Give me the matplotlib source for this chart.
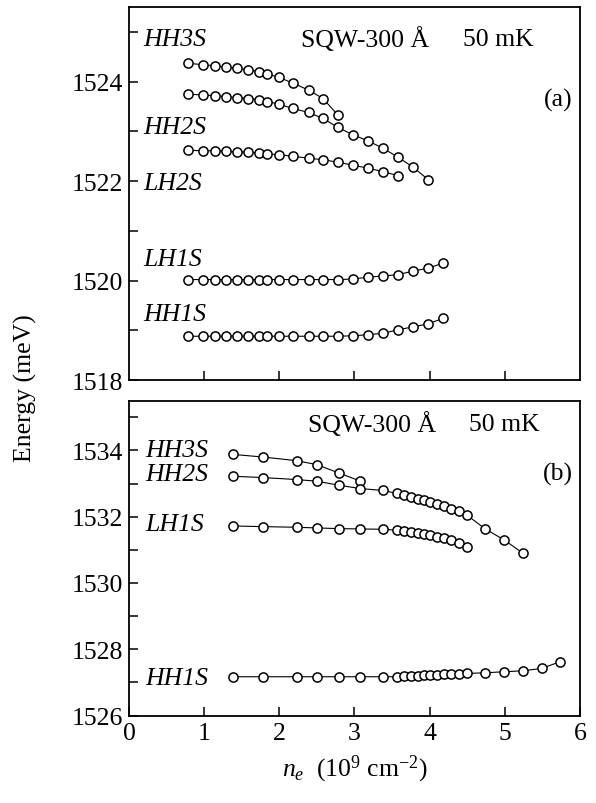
import matplotlib
matplotlib.use("Agg")
import matplotlib.pyplot as plt

plt.rcParams["font.family"] = ["Liberation Serif", "DejaVu Serif"]
plt.rcParams["mathtext.fontset"] = "custom"
plt.rcParams["mathtext.rm"] = "Liberation Serif"
plt.rcParams["mathtext.it"] = "Liberation Serif:italic"

# ---------------- Panel (a) data ----------------
xa_full = [0.79, 0.98, 1.14, 1.29, 1.44, 1.59, 1.73, 1.84, 1.99, 2.18,
           2.39, 2.58, 2.78, 2.98, 3.18, 3.38, 3.58, 3.78, 3.98, 4.18]

a_hh3s = [1524.37, 1524.34, 1524.32, 1524.29, 1524.27, 1524.24, 1524.20,
          1524.15, 1524.09, 1523.97, 1523.83, 1523.66, 1523.33]
a_hh2s = [1523.75, 1523.73, 1523.72, 1523.70, 1523.68, 1523.66, 1523.64,
          1523.60, 1523.55, 1523.46, 1523.38, 1523.26, 1523.08, 1522.93,
          1522.81, 1522.66, 1522.48, 1522.28, 1522.03]
a_lh2s = [1522.62, 1522.61, 1522.61, 1522.60, 1522.59, 1522.58, 1522.57,
          1522.55, 1522.53, 1522.50, 1522.46, 1522.43, 1522.38, 1522.32,
          1522.26, 1522.19, 1522.11]
a_lh1s = [1520.02, 1520.02, 1520.02, 1520.02, 1520.02, 1520.02, 1520.02,
          1520.02, 1520.02, 1520.02, 1520.02, 1520.02, 1520.02, 1520.03,
          1520.07, 1520.09, 1520.12, 1520.19, 1520.25, 1520.35]
a_hh1s = [1518.88, 1518.88, 1518.88, 1518.88, 1518.88, 1518.88, 1518.88,
          1518.88, 1518.88, 1518.88, 1518.88, 1518.88, 1518.88, 1518.89,
          1518.91, 1518.94, 1519.01, 1519.07, 1519.13, 1519.24]

# ---------------- Panel (b) data ----------------
xb_full = [1.38, 1.78, 2.23, 2.50, 2.79, 3.07, 3.38,
           3.57, 3.66, 3.75, 3.84, 3.93, 4.01, 4.10, 4.19, 4.29, 4.39, 4.50,
           4.74, 4.99, 5.24, 5.49, 5.73]

b_hh3s = [1533.88, 1533.80, 1533.69, 1533.57, 1533.32, 1533.08]
b_hh2s = [1533.22, 1533.18, 1533.12, 1533.07, 1532.95, 1532.85, 1532.79,
          1532.70, 1532.64, 1532.59, 1532.54, 1532.49, 1532.44, 1532.37,
          1532.31, 1532.24, 1532.17, 1532.04,
          1531.63, 1531.30, 1530.90]
b_lh1s = [1531.72, 1531.70, 1531.68, 1531.66, 1531.64, 1531.63, 1531.62,
          1531.59, 1531.57, 1531.54, 1531.51, 1531.48, 1531.45, 1531.40,
          1531.35, 1531.29, 1531.21, 1531.10]
b_hh1s = [1527.17, 1527.17, 1527.17, 1527.17, 1527.17, 1527.17, 1527.17,
          1527.17, 1527.18, 1527.19, 1527.20, 1527.21, 1527.22, 1527.23,
          1527.24, 1527.25, 1527.26, 1527.27,
          1527.29, 1527.32, 1527.35, 1527.42, 1527.62]

a_labels = [("HH3S", 1524.86), ("HH2S", 1523.09), ("LH2S", 1521.96),
            ("LH1S", 1520.44), ("HH1S", 1519.33)]
b_labels = [("HH3S", 1534.02), ("HH2S", 1533.28), ("LH1S", 1531.78),
            ("HH1S", 1527.12)]

FS = 18.5
MK = dict(marker="o", ms=6.6, mfc="white", mec="black", mew=1.1,
          color="black", lw=0.8)


def style_axis(ax, ylim, yticks, ylabels, show_x):
    ax.set_xlim(0, 6)
    ax.set_ylim(*ylim)
    ax.set_xticks([1, 2, 3, 4, 5] if not show_x else [0, 1, 2, 3, 4, 5, 6])
    if show_x:
        ax.set_xticklabels(["0", "1", "2", "3", "4", "5", "6"], fontsize=FS)
    else:
        ax.set_xticklabels([])
    ax.set_yticks(yticks)
    ax.set_yticklabels(ylabels, fontsize=FS)
    ax.tick_params(direction="in", length=6.5, width=1.1, top=False,
                   right=False, pad=4)
    ax.tick_params(axis="x", pad=5)
    for s in ax.spines.values():
        s.set_linewidth(1.3)


def main():
    fig = plt.figure(figsize=(5.96, 8.04), dpi=100)
    ax1 = fig.add_axes([0.2164, 0.5261, 0.7567, 0.4639])
    ax2 = fig.add_axes([0.2164, 0.1088, 0.7567, 0.3916])

    # (a)
    ax1.plot(xa_full[:len(a_hh3s)], a_hh3s, **MK)
    ax1.plot(xa_full[:len(a_hh2s)], a_hh2s, **MK)
    ax1.plot(xa_full[:len(a_lh2s)], a_lh2s, **MK)
    ax1.plot(xa_full[:len(a_lh1s)], a_lh1s, **MK)
    ax1.plot(xa_full[:len(a_hh1s)], a_hh1s, **MK)
    ya = list(range(1518, 1526))
    style_axis(ax1, (1518, 1525.5), ya,
               [str(v) if v % 2 == 0 else "" for v in ya], False)
    for lab, y in a_labels:
        ax1.text(0.19, y, lab, fontsize=FS, style="italic", va="center")
    ax1.text(2.29, 1524.86, "SQW-300 Å", fontsize=FS, va="center")
    ax1.text(4.44, 1524.86, "50 mK", fontsize=FS, va="center")
    ax1.text(5.90, 1523.65, "(a)", fontsize=FS, va="center", ha="right")

    # (b)
    ax2.plot(xb_full[:len(b_hh3s)], b_hh3s, **MK)
    ax2.plot(xb_full[:18] + xb_full[18:21], b_hh2s, **MK)
    ax2.plot(xb_full[:len(b_lh1s)], b_lh1s, **MK)
    ax2.plot(xb_full[:len(b_hh1s)], b_hh1s, **MK)
    yb = list(range(1526, 1536))
    style_axis(ax2, (1526, 1535.5), yb,
               [str(v) if v % 2 == 0 else "" for v in yb], True)
    for lab, y in b_labels:
        ax2.text(0.22, y, lab, fontsize=FS, style="italic", va="center")
    ax2.text(2.38, 1534.8, "SQW-300 Å", fontsize=FS, va="center")
    ax2.text(4.52, 1534.8, "50 mK", fontsize=FS, va="center")
    ax2.text(5.90, 1533.29, "(b)", fontsize=FS, va="center", ha="right")

    ax2.set_xlabel(r"$n_e$  (10$^9$ cm$^{-2}$)", fontsize=FS, labelpad=6)
    fig.text(0.042, 0.517, "Energy (meV)", fontsize=FS, rotation=90,
             ha="center", va="center")

    fig.savefig("out.png", dpi=100)
    plt.close(fig)


if __name__ == "__main__":
    main()
